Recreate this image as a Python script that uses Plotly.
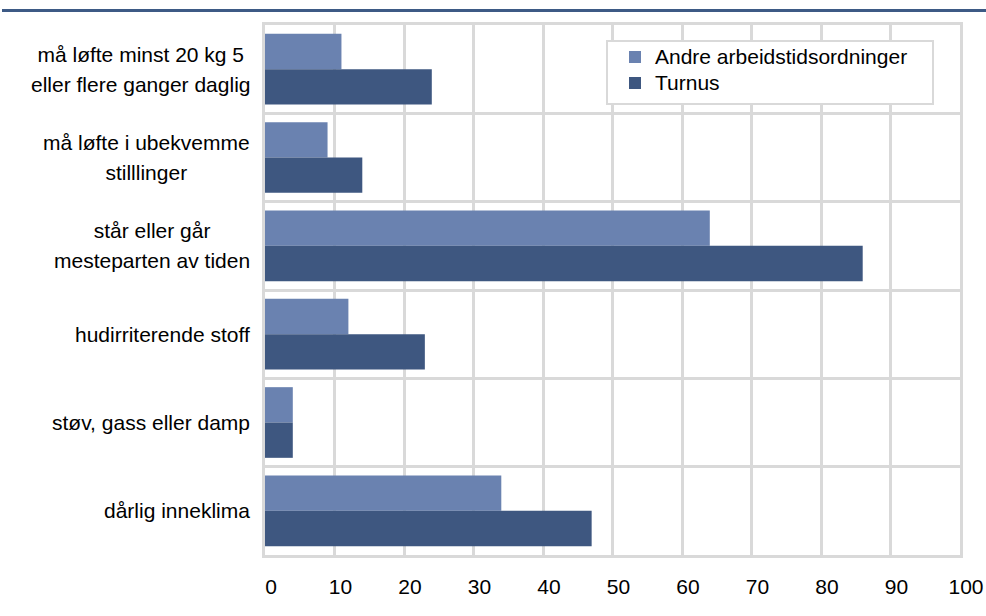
import plotly.graph_objects as go

categories = [
    "må løfte minst 20 kg 5<br>eller flere ganger daglig",
    "må løfte i ubekvemme<br>stilllinger",
    "står eller går<br>mesteparten av tiden",
    "hudirriterende stoff",
    "støv, gass eller damp",
    "dårlig inneklima",
]
andre = [11, 9, 64, 12, 4, 34]
turnus = [24, 14, 86, 23, 4, 47]
series_names = ["Andre arbeidstidsordninger", "Turnus"]
x_ticks = [0, 10, 20, 30, 40, 50, 60, 70, 80, 90, 100]

FONT = "Liberation Sans, Arial, sans-serif"
GRID = "#d9d9d9"
C_ANDRE = "#6a82b0"
C_TURNUS = "#3e5780"

W, H = 986, 616
L, R, T, B = 265, 26, 25, 61
PW, PH = W - L - R, H - T - B

fig = go.Figure()
fig.add_trace(go.Bar(y=categories, x=andre,
                     name=f"<span style='font-size:21px'>{series_names[0]}</span>",
                     orientation="h", marker=dict(color=C_ANDRE, line=dict(width=0))))
fig.add_trace(go.Bar(y=categories, x=turnus,
                     name=f"<span style='font-size:21px'>{series_names[1]}</span>",
                     orientation="h", marker=dict(color=C_TURNUS, line=dict(width=0))))

annotations = []
for cat in categories:
    lines = cat.split("<br>")
    if len(lines) > 1:
        txt = "<br>".join(f"<span style='font-size:21px'>{ln}</span>" for ln in lines)
        size = 23
    else:
        txt = cat
        size = 21
    annotations.append(dict(
        x=-13 / PW, xref="paper", xanchor="right",
        y=cat, yref="y", yanchor="middle",
        text=txt, showarrow=False, align="center",
        font=dict(family=FONT, size=size, color="#000000"),
    ))

shapes = [
    dict(type="line", xref="paper", yref="paper",
         x0=(2 - L) / PW, x1=(W + 10 - L) / PW,
         y0=(H - B - 10.5) / PH, y1=(H - B - 10.5) / PH,
         line=dict(color="#3d5a85", width=3)),
    dict(type="rect", xref="paper", yref="paper", layer="above",
         x0=(607 - L) / PW, x1=(933 - L) / PW,
         y0=(H - B - 104) / PH, y1=(H - B - 41) / PH,
         line=dict(color=GRID, width=2), fillcolor="white"),
]

fig.update_layout(
    width=W, height=H,
    margin=dict(l=L, r=R, t=T, b=B, pad=0, autoexpand=False),
    paper_bgcolor="white", plot_bgcolor="white",
    barmode="group", bargap=0.2, bargroupgap=0,
    font=dict(family=FONT, size=21, color="#000000"),
    showlegend=True,
    legend=dict(x=(615 - L) / PW, y=(H - B - 39) / PH, xanchor="left", yanchor="top",
                bgcolor="rgba(0,0,0,0)", borderwidth=0,
                font=dict(family=FONT, size=17.7, color="#000000"),
                tracegroupgap=0),
    annotations=annotations,
    shapes=shapes,
)
fig.update_xaxes(range=[0, 100], tickvals=x_ticks, ticktext=[str(v) for v in x_ticks],
                 showgrid=True, gridcolor=GRID, gridwidth=3, zeroline=False,
                 showline=True, linecolor=GRID, linewidth=3, mirror=True,
                 automargin=False,
                 ticks="", ticklabelstandoff=11, ticklabelshift=6,
                 tickfont=dict(family=FONT, size=21, color="#000000"))
fig.update_yaxes(type="category", categoryorder="array", categoryarray=categories,
                 autorange="reversed", showticklabels=False, automargin=False,
                 showgrid=True, gridcolor=GRID, gridwidth=3, tickson="boundaries",
                 showline=True, linecolor=GRID, linewidth=3, mirror=True, ticks="")

fig.write_html("out.html", config={"displayModeBar": False},
               post_script="document.body.style.margin='0';")
